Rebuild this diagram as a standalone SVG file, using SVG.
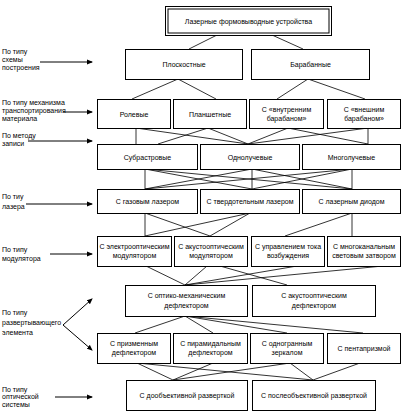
<svg xmlns="http://www.w3.org/2000/svg" width="402" height="412" viewBox="0 0 402 412">
<style>
.b{fill:#fff;stroke:#000;stroke-width:1}
.t{font-family:"Liberation Sans",Arial,sans-serif;font-size:7px;fill:#000;text-anchor:middle}
.l{font-family:"Liberation Sans",Arial,sans-serif;font-size:7px;fill:#000}
.c{stroke:#000;stroke-width:0.8;fill:none}
.a{stroke:#000;stroke-width:1;fill:none}
</style>
<defs>
<marker id="ah" markerWidth="6" markerHeight="6" refX="5" refY="3" orient="auto" markerUnits="userSpaceOnUse">
<path d="M0,0.5 L6,3 L0,5.5 Z" fill="#000"/>
</marker>
</defs>
<rect width="402" height="412" fill="#fff"/>
<g id="connectors">
<path class="c" d="M217,35 L189,49 M272,35 L303,49"/>
<path class="c" d="M178,79 L132,99 M178,79 L216,99 M308,79 L277,99 M308,79 L365,99"/>
<path class="c" d="M136,128 L136,144 M136,128 L248,144 M208,128 L158,144 M208,128 L248,144 M288,128 L248,144 M288,128 L368,144 M368,128 L368,144 M368,128 L248,144"/>
<path class="c" d="M145,169 L145,189 M145,169 L252,189 M145,169 L352,189 M252,169 L145,189 M252,169 L252,189 M252,169 L352,189 M352,169 L145,189 M352,169 L252,189 M352,169 L352,189"/>
<path class="c" d="M145,213 L145,236 M145,213 L210,236 M250,213 L145,236 M250,213 L210,236 M352,213 L285,236 M352,213 L352,236"/>
<path class="c" d="M146,266 L185,285 M207,266 L185,285 M297,266 L185,285 M383,266 L185,285 M220,266 L287,285"/>
<path class="c" d="M185,316 L135,333 M185,316 L213,333 M185,316 L287,333 M185,316 L363,333"/>
<path class="c" d="M137,363 L173,380 M137,363 L313,380 M213,363 L173,380 M290,363 L173,380 M290,363 L313,380 M360,363 L313,380"/>
</g>
<g id="labels">
<text class="l" x="2" y="54">По типу</text>
<text class="l" x="2" y="62">схемы</text>
<text class="l" x="2" y="70">построения</text>
<line class="a" x1="40" y1="62" x2="92" y2="62" marker-end="url(#ah)"/>
<text class="l" x="2" y="105">По типу механизма</text>
<text class="l" x="2" y="113">транспортирования</text>
<text class="l" x="2" y="121">материала</text>
<line class="a" x1="63" y1="112" x2="92" y2="112" marker-end="url(#ah)"/>
<text class="l" x="2" y="138">По методу</text>
<text class="l" x="2" y="146">записи</text>
<line class="a" x1="28" y1="141" x2="92" y2="141" marker-end="url(#ah)"/>
<text class="l" x="2" y="199">По тиу</text>
<text class="l" x="2" y="209">лазера</text>
<line class="a" x1="26" y1="204" x2="92" y2="204" marker-end="url(#ah)"/>
<text class="l" x="2" y="252">По типу</text>
<text class="l" x="2" y="261">модулятора</text>
<line class="a" x1="50" y1="254" x2="92" y2="254" marker-end="url(#ah)"/>
<text class="l" x="2" y="315">По типу</text>
<text class="l" x="2" y="325">развертывающего</text>
<text class="l" x="2" y="335">элемента</text>
<line class="a" x1="63" y1="325" x2="92" y2="299" marker-end="url(#ah)"/>
<line class="a" x1="63" y1="325" x2="92" y2="350" marker-end="url(#ah)"/>
<text class="l" x="2" y="392">По типу</text>
<text class="l" x="2" y="399">оптической</text>
<text class="l" x="2" y="407">системы</text>
<line class="a" x1="55" y1="397" x2="92" y2="397" marker-end="url(#ah)"/>
</g>
<g id="n-root"><rect class="b" x="165.5" y="6.5" width="166" height="29"/><rect class="b" x="168" y="9" width="161" height="24"/><text class="t" x="248.5" y="23.5">Лазерные формовыводные устройства</text></g>
<g id="n-plosk"><rect class="b" x="125.5" y="49.5" width="117" height="30"/><text class="t" x="184" y="67">Плоскостные</text></g>
<g id="n-baraban"><rect class="b" x="251.5" y="49.5" width="118" height="30"/><text class="t" x="310.5" y="67">Барабанные</text></g>
<g id="n-rol"><rect class="b" x="97.5" y="99.5" width="73" height="29"/><text class="t" x="134" y="116.5">Ролевые</text></g>
<g id="n-plansh"><rect class="b" x="173.5" y="99.5" width="73" height="29"/><text class="t" x="210" y="116.5">Планшетные</text></g>
<g id="n-vnutr"><rect class="b" x="249.5" y="99.5" width="74" height="29"/><text class="t" x="286.5" y="112">С «внутренним</text><text class="t" x="286.5" y="121">барабаном»</text></g>
<g id="n-vnesh"><rect class="b" x="327.5" y="99.5" width="73" height="29"/><text class="t" x="364" y="112">С «внешним</text><text class="t" x="364" y="121">барабаном»</text></g>
<g id="n-subr"><rect class="b" x="97.5" y="144.5" width="100" height="25"/><text class="t" x="147.5" y="159.5">Субрастровые</text></g>
<g id="n-odnol"><rect class="b" x="200.5" y="144.5" width="99" height="25"/><text class="t" x="250" y="159.5">Однолучевые</text></g>
<g id="n-mnogol"><rect class="b" x="302.5" y="144.5" width="98" height="25"/><text class="t" x="351.5" y="159.5">Многолучевые</text></g>
<g id="n-gas"><rect class="b" x="97.5" y="189.5" width="100" height="24"/><text class="t" x="147.5" y="204">С газовым лазером</text></g>
<g id="n-tverd"><rect class="b" x="200.5" y="189.5" width="99" height="24"/><text class="t" x="250" y="204">С твердотельным лазером</text></g>
<g id="n-diod"><rect class="b" x="302.5" y="189.5" width="98" height="24"/><text class="t" x="351.5" y="204">С лазерным диодом</text></g>
<g id="n-eom"><rect class="b" x="97.5" y="236.5" width="74" height="30"/><text class="t" x="134.5" y="248.5">С электрооптическим</text><text class="t" x="134.5" y="258">модулятором</text></g>
<g id="n-aom"><rect class="b" x="174.5" y="236.5" width="73" height="30"/><text class="t" x="211" y="248.5">С акустооптическим</text><text class="t" x="211" y="258">модулятором</text></g>
<g id="n-tok"><rect class="b" x="251.5" y="236.5" width="73" height="30"/><text class="t" x="288" y="248.5">С управлением тока</text><text class="t" x="288" y="258">возбуждения</text></g>
<g id="n-zatvor"><rect class="b" x="327.5" y="236.5" width="73" height="30"/><text class="t" x="364" y="248.5">С многоканальным</text><text class="t" x="364" y="258">световым затвором</text></g>
<g id="n-omd"><rect class="b" x="125.5" y="285.5" width="122" height="31"/><text class="t" x="186.5" y="298">С оптико-механическим</text><text class="t" x="186.5" y="307.5">дефлектором</text></g>
<g id="n-aod"><rect class="b" x="252.5" y="285.5" width="123" height="31"/><text class="t" x="314" y="298">С акустооптическим</text><text class="t" x="314" y="307.5">дефлектором</text></g>
<g id="n-prizm"><rect class="b" x="97.5" y="333.5" width="73" height="30"/><text class="t" x="134" y="345.5">С призменным</text><text class="t" x="134" y="355">дефлектором</text></g>
<g id="n-piram"><rect class="b" x="173.5" y="333.5" width="74" height="30"/><text class="t" x="210.5" y="345.5">С пирамидальным</text><text class="t" x="210.5" y="355">дефлектором</text></g>
<g id="n-odnogr"><rect class="b" x="250.5" y="333.5" width="73" height="30"/><text class="t" x="287" y="345.5">С одногранным</text><text class="t" x="287" y="355">зеркалом</text></g>
<g id="n-penta"><rect class="b" x="327.5" y="333.5" width="73" height="30"/><text class="t" x="364" y="351">С пентапризмой</text></g>
<g id="n-do"><rect class="b" x="126.5" y="380.5" width="121" height="30"/><text class="t" x="187" y="398">С дообъективной разверткой</text></g>
<g id="n-posle"><rect class="b" x="252.5" y="380.5" width="123" height="30"/><text class="t" x="314" y="398">С послеобъективной разверткой</text></g>
</svg>
